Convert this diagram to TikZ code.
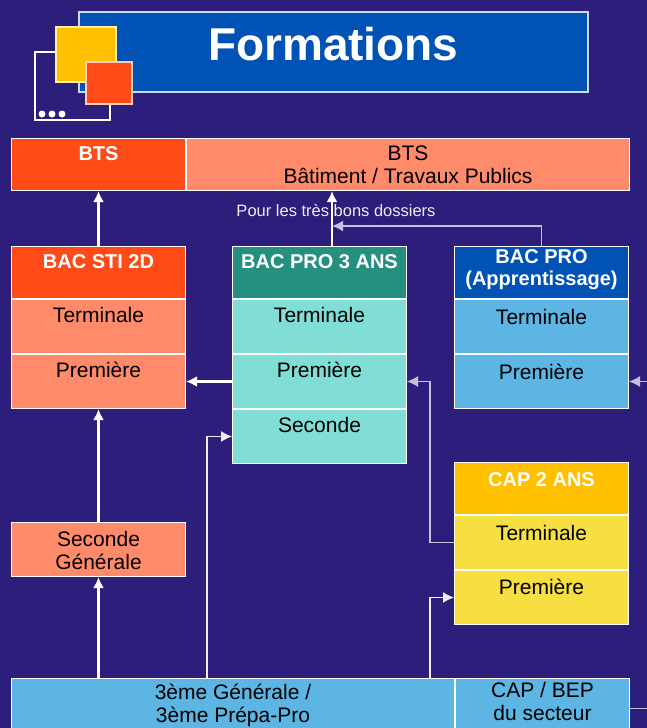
\documentclass[tikz,border=0pt]{standalone}
\usepackage{fontspec}
\setmainfont{Liberation Sans}
\usetikzlibrary{
  arrows.meta,
  positioning
}
\definecolor{fond}{RGB}{44,30,122}
\definecolor{bleu}{RGB}{0,82,180}
\definecolor{rouge}{RGB}{255,75,23}
\definecolor{saumon}{RGB}{255,139,107}
\definecolor{sarcelle}{RGB}{38,144,128}
\definecolor{turquoise}{RGB}{128,222,214}
\definecolor{ciel}{RGB}{93,181,227}
\definecolor{or}{RGB}{255,192,0}
\definecolor{jaune}{RGB}{247,223,66}
\tikzset{
  >={Latex[length=11pt,width=11pt]},
  node distance = 0pt,
  box/.style = {draw=white, line width=1pt, inner xsep=0pt, inner ysep=4pt,
    minimum width=174pt, align=center, font=\fontsize{21}{23}\selectfont,
    text height=19pt, text depth=27pt},
  head/.style = {box, text=white, font=\fontsize{20}{22}\bfseries\selectfont,
    text height=18pt, text depth=26pt},
  fleche/.style = {->, draw=white, line width=2.5pt},
  lien/.style = {->, draw=white!92!fond, line width=1.3pt},
  liengris/.style = {lien, draw=white!72!fond},
}
\begin{document}
\begin{tikzpicture}[x=1pt, y=-1pt]
  \useasboundingbox (0,0) rectangle (647,728);
  \fill[fond] (0,0) rectangle (647,728);
  \clip (0,0) rectangle (647,728);

  \node[draw=white!80!bleu, line width=1.5pt, fill=bleu, inner sep=0pt,
    minimum width=509pt, text height=49pt, text depth=31pt, anchor=north west,
    text=white, font=\fontsize{46}{50}\bfseries\selectfont] (titre) at (78,11) {Formations};
  \draw[white, line width=1.5pt] (35,52) rectangle (110,120);
  \filldraw[fill=or, draw=jaune!45!white, line width=1.5pt] (56,27) rectangle (116,82);
  \filldraw[fill=rouge, draw=saumon!45!white, line width=1.5pt] (86,62) rectangle (132,104);
  \foreach \x in {42,52,62}
    \fill[white] (\x,114) circle (3.5);

  \node[head, fill=rouge, anchor=north west] (bts) at (11,138) {BTS};
  \node[box, fill=saumon, minimum width=443pt, right=of bts,
    text height=41pt, text depth=3pt] (btsBtp) {BTS\\Bâtiment / Travaux Publics};

  \node[head, fill=rouge, anchor=north west] (sti) at (11,246) {BAC STI 2D};
  \node[box, fill=saumon, below=of sti] (stiTerm) {Terminale};
  \node[box, fill=saumon, below=of stiTerm] (stiPrem) {Première};

  \node[head, fill=sarcelle, anchor=north west] (pro) at (232,246) {BAC PRO 3 ANS};
  \node[box, fill=turquoise, below=of pro] (proTerm) {Terminale};
  \node[box, fill=turquoise, below=of proTerm] (proPrem) {Première};
  \node[box, fill=turquoise, below=of proPrem] (proSec) {Seconde};

  \node[head, fill=bleu, anchor=north west, text height=35pt, text depth=9pt]
    (app) at (454,246) {BAC PRO\\(Apprentissage)};
  \node[box, fill=ciel, below=of app, text height=21pt, text depth=25pt] (appTerm) {Terminale};
  \node[box, fill=ciel, below=of appTerm, text height=21pt, text depth=25pt] (appPrem) {Première};

  \node[head, fill=or, anchor=north west, text height=20pt, text depth=24pt]
    (cap) at (454,462) {CAP 2 ANS};
  \node[box, fill=jaune, below=of cap, text height=21pt, text depth=25pt] (capTerm) {Terminale};
  \node[box, fill=jaune, below=of capTerm, text height=20pt, text depth=26pt] (capPrem) {Première};

  \node[box, fill=saumon, anchor=north west, text height=43pt, text depth=3pt]
    (secGen) at (11,522) {Seconde\\Générale};
  \node[box, fill=ciel, anchor=north west, minimum width=443pt,
    text height=40pt, text depth=12pt] (troisieme) at (11,678) {3ème Générale /\\3ème Prépa-Pro};
  \node[box, fill=ciel, right=of troisieme, text height=38pt, text depth=14pt]
    (capBep) {CAP / BEP\\du secteur};

  \coordinate (pBon) at (332,226);
  \coordinate (pSec) at (207,0);
  \coordinate (pCap) at (430,0);
  \coordinate (pDroite) at (665,0);

  \draw[fleche] (sti) -- (bts);
  \draw[fleche] (pro.north -| pBon) -- (btsBtp.south -| pBon);
  \draw[liengris] (app.north) |- (pBon);
  \node[anchor=base, text=white!92!fond, font=\fontsize{16.5}{18}\selectfont]
    (bons) at (336,216) {Pour les très bons dossiers};
  \draw[fleche] (proPrem) -- (stiPrem);
  \draw[fleche] (secGen) -- (stiPrem);
  \draw[fleche] (troisieme.north -| secGen) -- (secGen);
  \draw[lien] (troisieme.north -| pSec) |- (proSec);
  \draw[liengris] (capTerm.west) -- (capTerm.west -| pCap) |- (proPrem);
  \draw[lien] (troisieme.north -| pCap) |- (capPrem);
  \draw[liengris] (capBep.east) -- (capBep.east -| pDroite) |- (appPrem);
\end{tikzpicture}
\end{document}
